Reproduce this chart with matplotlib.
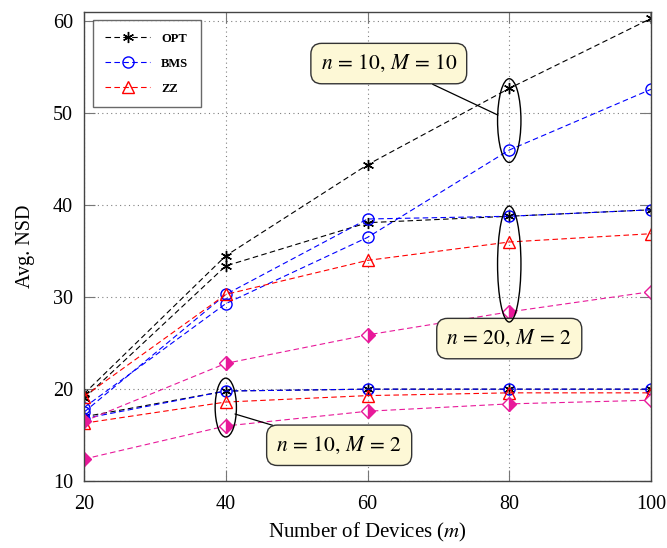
import numpy as np
import matplotlib.pyplot as plt
from matplotlib.patches import Ellipse

plt.rcParams['font.family'] = ['Liberation Serif', 'DejaVu Serif']
plt.rcParams['mathtext.fontset'] = 'stix'

# number of devices
m = [20, 40, 60, 80, 100]

# n = 10, M = 10
opt_10_10 = [19.5, 34.5, 44.4, 52.7, 60.3]
bms_10_10 = [18.0, 29.3, 36.5, 46.0, 52.6]

# n = 20, M = 2
opt_20_2 = [19.0, 33.4, 38.1, 38.8, 39.5]
bms_20_2 = [17.5, 30.3, 38.5, 38.8, 39.5]
zz_20_2 = [19.2, 30.3, 34.0, 36.0, 36.9]
mag_20_2 = [16.5, 22.8, 25.9, 28.4, 30.6]

# n = 10, M = 2
opt_10_2 = [17.0, 19.8, 20.0, 20.0, 20.0]
bms_10_2 = [16.8, 19.8, 20.0, 20.0, 20.0]
zz_10_2 = [16.3, 18.6, 19.3, 19.6, 19.6]
mag_10_2 = [12.4, 16.0, 17.6, 18.4, 18.8]

magenta = '#e8199a'
star = (6, 2, 0)
dash = (0, (5, 3))

fig = plt.figure(figsize=(6.67, 5.48), dpi=100)
ax = fig.add_axes([0.126, 0.122, 0.85, 0.856])

kw = dict(lw=0.8, ls=dash, ms=8)
ax.plot(m, opt_10_10, color='black', marker=star, label='OPT', **kw)
ax.plot(m, opt_20_2, color='black', marker=star, **kw)
ax.plot(m, opt_10_2, color='black', marker=star, **kw)

ax.plot(m, bms_10_10, color='blue', marker='o', mfc='none', label='BMS', **kw)
ax.plot(m, bms_20_2, color='blue', marker='o', mfc='none', **kw)
ax.plot(m, bms_10_2, color='blue', marker='o', mfc='none', **kw)

ax.plot(m, zz_20_2, color='red', marker='^', mfc='none', label='ZZ', **kw)
ax.plot(m, zz_10_2, color='red', marker='^', mfc='none', **kw)

dkw = dict(lw=0.8, ls=dash, ms=7, marker='D', fillstyle='right',
           markerfacecoloralt='white', color=magenta)
ax.plot(m, mag_20_2, **dkw)
ax.plot(m, mag_10_2, **dkw)

ax.set_xlim(20, 100)
ax.set_ylim(10, 61)
ax.set_xticks(m)
ax.set_yticks([10, 20, 30, 40, 50, 60])
ax.grid(True, ls=(0, (1, 3)), color='gray', lw=0.8)
ax.tick_params(direction='in', length=8, color='#777777', labelsize=14.5,
               top=True, right=True, pad=8)
ax.tick_params(axis='x', pad=10)
for s in ax.spines.values():
    s.set_color('#444444')
    s.set_linewidth(1.0)

ax.set_xlabel('Number of Devices ($m$)', fontsize=15, labelpad=5)
ax.set_ylabel('Avg. NSD', fontsize=14.5, labelpad=13)

leg = ax.legend(loc='upper left', fontsize=9, handlelength=3.6, numpoints=1,
                fancybox=False, edgecolor='#444444', borderpad=1.0,
                labelspacing=1.05, handletextpad=0.9, borderaxespad=0,
                bbox_to_anchor=(0.015, 0.983))
leg.get_frame().set_linewidth(1.0)
for t in leg.get_texts():
    t.set_fontweight('bold')

# ellipses and labels
box = dict(boxstyle='round,pad=0.45,rounding_size=0.5', fc='#fdf8d6',
           ec='#333333', lw=1.0)
ax.add_patch(Ellipse((80, 49.2), 3.3, 9.1, fill=False, ec='black', lw=1.0, zorder=5))
ax.add_patch(Ellipse((80, 33.6), 3.3, 12.6, fill=False, ec='black', lw=1.0, zorder=5))
ax.add_patch(Ellipse((40, 18.0), 3.0, 6.4, fill=False, ec='black', lw=1.0, zorder=5))

ax.annotate('$n\\,=\\,10,\\,M\\,=\\,10$', xy=(78.4, 49.8), xytext=(63.0, 55.4),
            fontsize=15.5, ha='center', va='center', bbox=box,
            arrowprops=dict(arrowstyle='-', lw=0.9, color='black',
                            shrinkA=0, shrinkB=0))
ax.annotate('$n\\,=\\,20,\\,M\\,=\\,2$', xy=(80, 27.3), xytext=(80, 25.5),
            fontsize=15.5, ha='center', va='center', bbox=box,
            arrowprops=dict(arrowstyle='-', lw=0.9, color='black',
                            shrinkA=0, shrinkB=0))
ax.annotate('$n\\,=\\,10,\\,M\\,=\\,2$', xy=(41.3, 17.3), xytext=(56.0, 13.9),
            fontsize=15.5, ha='center', va='center', bbox=box,
            arrowprops=dict(arrowstyle='-', lw=0.9, color='black',
                            shrinkA=0, shrinkB=0))

fig.savefig('out.png', dpi=100)
